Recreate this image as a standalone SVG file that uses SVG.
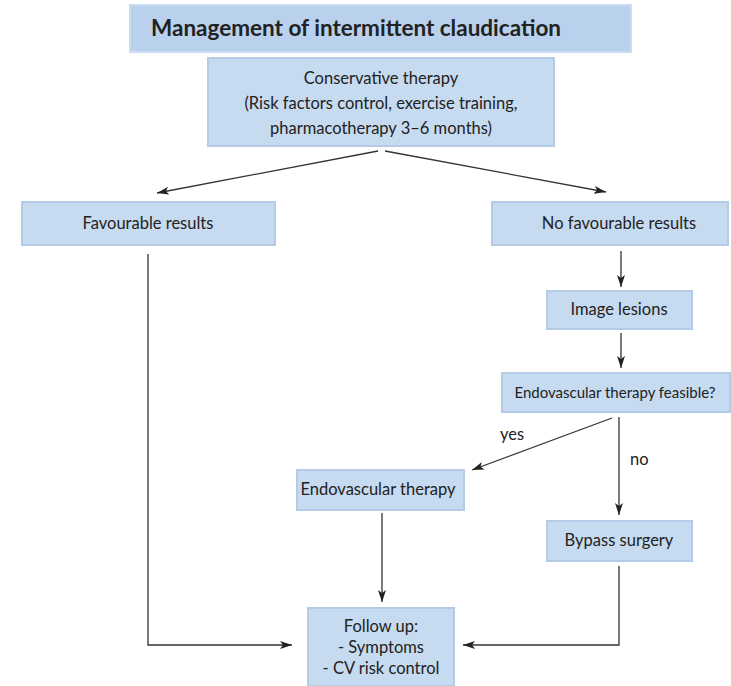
<svg xmlns="http://www.w3.org/2000/svg" width="731" height="686" viewBox="0 0 731 686">
<defs>
<style>
.box{fill:#c6daf0;stroke:#b3cbe7;stroke-width:2}
.title{fill:#b9d1ec;stroke:#c9dcf2;stroke-width:2}
text{font-family:Lato,"Open Sans","Liberation Sans",sans-serif;fill:#222;font-size:16.5px}
.c{text-anchor:middle}
.t{font-size:22.5px;font-weight:bold}
.s{font-size:15px}
.ln{fill:none;stroke:#333;stroke-width:1.3}
</style>
<marker id="ah" viewBox="0 0 12 8" refX="12" refY="4" markerWidth="12" markerHeight="8" markerUnits="userSpaceOnUse" orient="auto">
<path d="M0,0 L12,4 L0,8 L3,4 Z" fill="#222"/>
</marker>
</defs>
<rect width="731" height="686" fill="#fff"/>
<g id="title">
<rect class="title" x="130" y="5" width="501" height="47"/>
<text class="t" x="151" y="36">Management of intermittent claudication</text>
</g>
<g id="conservative">
<rect class="box" x="208" y="58" width="346" height="88"/>
<text class="c" x="381" y="84">Conservative therapy</text>
<text class="c" x="381" y="109">(Risk factors control, exercise training,</text>
<text class="c" x="381" y="134">pharmacotherapy 3–6 months)</text>
</g>
<g id="favourable">
<rect class="box" x="22" y="202" width="253" height="43"/>
<text class="c" x="148" y="229">Favourable results</text>
</g>
<g id="nofavourable">
<rect class="box" x="492" y="202" width="236" height="43"/>
<text class="c" x="619" y="229">No favourable results</text>
</g>
<g id="image">
<rect class="box" x="547" y="291" width="145" height="38"/>
<text class="c" x="619" y="315">Image lesions</text>
</g>
<g id="feasible">
<rect class="box" x="502" y="373" width="228" height="39"/>
<text class="c s" x="615" y="398">Endovascular therapy feasible?</text>
</g>
<g id="endovascular">
<rect class="box" x="297" y="470" width="167" height="40"/>
<text class="c" x="378" y="495">Endovascular therapy</text>
</g>
<g id="bypass">
<rect class="box" x="547" y="521" width="145" height="40"/>
<text class="c" x="619" y="546">Bypass surgery</text>
</g>
<g id="followup">
<rect class="box" x="308" y="608" width="146" height="78"/>
<text class="c" x="381" y="632">Follow up:</text>
<text class="c" x="381" y="653">- Symptoms</text>
<text class="c" x="381" y="674">- CV risk control</text>
</g>
<g id="connectors">
<path class="ln" d="M378,151 L157,193" marker-end="url(#ah)"/>
<path class="ln" d="M385,151 L606,192" marker-end="url(#ah)"/>
<path class="ln" d="M621,251 L621,287" marker-end="url(#ah)"/>
<path class="ln" d="M621,333 L621,368" marker-end="url(#ah)"/>
<path class="ln" d="M612,418 L472,470" marker-end="url(#ah)"/>
<path class="ln" d="M619,417 L619,515" marker-end="url(#ah)"/>
<path class="ln" d="M382,513 L382,602" marker-end="url(#ah)"/>
<path class="ln" d="M148,254 L148,645 L292,645" marker-end="url(#ah)"/>
<path class="ln" d="M619,566 L619,645 L463,645" marker-end="url(#ah)"/>
<text x="500" y="440">yes</text>
<text x="630" y="465">no</text>
</g>
</svg>
